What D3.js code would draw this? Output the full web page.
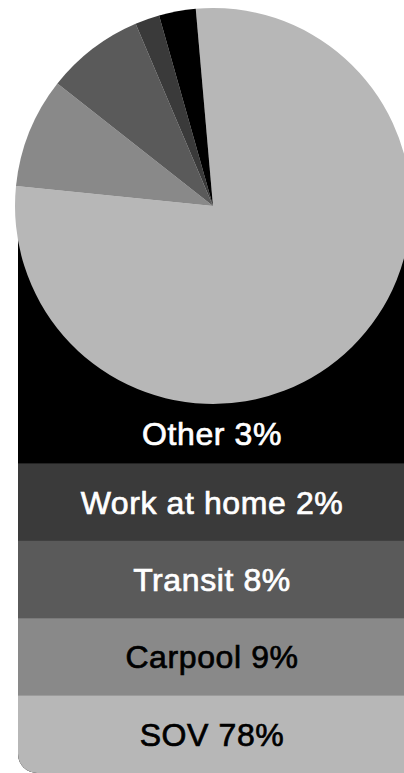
<!DOCTYPE html>
<html>
<head>
<meta charset="utf-8">
<script src="https://cdn.jsdelivr.net/npm/d3@7"></script>
<style>
  html, body { margin: 0; padding: 0; background: #fff; }
  svg { display: block; }
  .row-label { font-family: "Liberation Sans", Arial, Helvetica, sans-serif; font-size: 32px; letter-spacing: 0.6px; stroke-width: 0.7px; }
</style>
</head>
<body>
<svg id="chart" width="404" height="773"></svg>
<script>
// Commute mode shares, pie order (clockwise from the top).
const modes = ["SOV", "Carpool", "Transit", "Work at home", "Other"];
const shares = [78, 9, 8, 2, 3];
const fills = ["#b7b7b7", "#898989", "#5a5a5a", "#3a3a3a", "#000000"];
const textFills = ["#000", "#000", "#fff", "#fff", "#fff"];

// Legend rows read top to bottom.
const legendOrder = ["Other", "Work at home", "Transit", "Carpool", "SOV"];

const W = 404, H = 773;
const cx = 213, cy = 206, radius = 198;
const panel = { left: 18, right: W + 20, top: cy, bottom: H, corner: 19 };
const rowsTop = 386;

const svg = d3.select("#chart");

const color = d3.scaleOrdinal().domain(modes).range(fills);
const textColor = d3.scaleOrdinal().domain(modes).range(textFills);

// Black backing panel with rounded bottom-left corner.
const p = d3.path();
p.moveTo(panel.left, panel.top);
p.lineTo(panel.right, panel.top);
p.lineTo(panel.right, panel.bottom);
p.lineTo(panel.left + panel.corner, panel.bottom);
p.arcTo(panel.left, panel.bottom, panel.left, panel.bottom - panel.corner, panel.corner);
p.closePath();

svg.append("clipPath").attr("id", "panel-clip")
  .append("path").attr("d", p.toString());

svg.append("path").attr("d", p.toString()).attr("fill", "#000");

// Legend bands.
const y = d3.scaleBand().domain(legendOrder).range([rowsTop, H]).padding(0);
const shareOf = new Map(modes.map((m, i) => [m, shares[i]]));

const rows = svg.append("g").attr("clip-path", "url(#panel-clip)");
rows.selectAll("rect")
  .data(legendOrder)
  .join("rect")
  .attr("x", panel.left)
  .attr("y", d => y(d))
  .attr("width", panel.right - panel.left)
  .attr("height", y.bandwidth() + 0.5)
  .attr("fill", d => color(d));

// Pie.
const pie = d3.pie().sort(null).value(d => d.value)
  .startAngle(-5 * Math.PI / 180)
  .endAngle(355 * Math.PI / 180);
const arc = d3.arc().innerRadius(0).outerRadius(radius);

svg.append("g")
  .attr("transform", `translate(${cx},${cy})`)
  .selectAll("path")
  .data(pie(modes.map((m, i) => ({ mode: m, value: shares[i] }))))
  .join("path")
  .attr("d", arc)
  .attr("fill", d => color(d.data.mode));

// Row labels, centred in the visible part of each band.
const pieBottom = cy + radius;
svg.append("g")
  .selectAll("text")
  .data(legendOrder)
  .join("text")
  .attr("class", "row-label")
  .attr("x", 212)
  .attr("y", d => {
    const top = Math.max(y(d), pieBottom);
    return (top + y(d) + y.bandwidth()) / 2 + 11.5;
  })
  .attr("text-anchor", "middle")
  .attr("fill", d => textColor(d))
  .attr("stroke", d => textColor(d))
  .text(d => `${d} ${shareOf.get(d)}%`);
</script>
</body>
</html>
